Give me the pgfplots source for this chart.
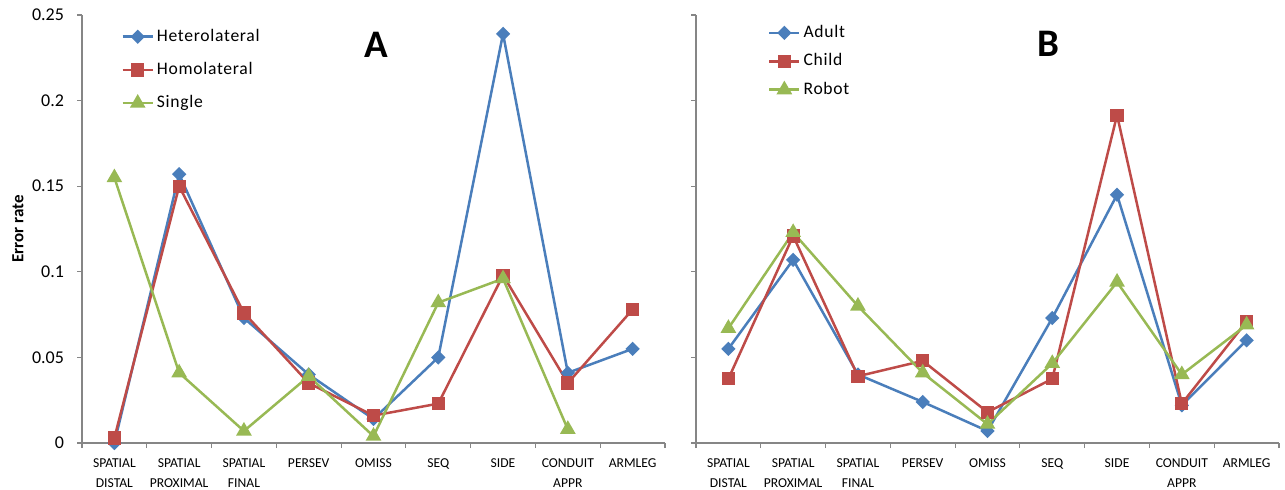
\documentclass[border=0pt]{standalone}
\usepackage{pgfplots}
\pgfplotsset{compat=1.18}
\usepackage{fontspec}
\setmainfont{Carlito}
\newfontfamily\lgfont[LetterSpace=4]{Carlito}
\definecolor{xblue}{HTML}{4A7EBB}
\definecolor{xred}{HTML}{BE4B48}
\definecolor{xgreen}{HTML}{98B954}
\definecolor{axgray}{HTML}{868686}
\pgfplotsset{
 myaxis/.style={
  scale only axis, width=291.5pt, height=214pt, anchor=south west,
  xmin=-0.5, xmax=8.5, ymin=0, ymax=0.25,
  axis x line*=bottom, axis y line*=left,
  axis line style={axgray, line width=0.6pt, -},
  every tick/.style={axgray, line width=0.6pt},
  tick align=outside,
  major tick length=2.5pt, minor tick length=2.5pt,
  xtick={0,...,8},
  xticklabels={SPATIAL\\DISTAL, SPATIAL\\PROXIMAL, SPATIAL\\FINAL, PERSEV, OMISS, SEQ, SIDE, CONDUIT\\APPR, ARMLEG},
  major x tick style={draw=none},
  minor xtick={-0.5,0.5,...,8.5},
  xticklabel style={align=center, font=\fontsize{6.8}{10}\selectfont, anchor=north, yshift=-2pt},
  ytick={0,0.05,0.1,0.15,0.2,0.25},
  yticklabel style={font=\fontsize{9}{10}\selectfont, xshift=-3pt},
  legend cell align=left,
  clip=false,
 },
 lgimg/.style={legend image code/.code={\draw[mark repeat=2,mark phase=2,##1] plot coordinates {(0pt,0pt)(7.5pt,0pt)(15pt,0pt)};}},
 sb/.style={xblue, line width=1.25pt, mark=square*, mark size=1.9pt, mark options={solid, rotate=45}},
 sr/.style={xred, line width=1.25pt, mark=square*, mark size=2.7pt, mark options={solid}},
 sg/.style={xgreen, line width=1.25pt, mark=triangle*, mark size=3.3pt, mark options={solid}},
}
\begin{document}
\begin{tikzpicture}
\useasboundingbox (0,0) rectangle (642.5pt,244.5pt);
\begin{axis}[myaxis, at={(41pt,23pt)},
  yticklabels={0,0.05,0.1,0.15,0.2,0.25},
  ylabel={Error rate},
  ylabel style={font=\bfseries\fontsize{8.5}{10}\selectfont, at={(axis description cs:-0.11,0.5)}, anchor=center},
  legend style={draw=none, fill=none, font=\lgfont\fontsize{8.8}{10}\selectfont, at={(rel axis cs:0.067,0.975)}, anchor=north west, row sep=6pt, inner sep=0pt, nodes={inner sep=1.5pt}},
]
\addplot[sb, lgimg] coordinates {(0,0) (1,0.157) (2,0.073) (3,0.040) (4,0.014) (5,0.050) (6,0.239) (7,0.041) (8,0.055)};
\addlegendentry{Heterolateral}
\addplot[sr, lgimg] coordinates {(0,0.003) (1,0.150) (2,0.076) (3,0.035) (4,0.016) (5,0.023) (6,0.098) (7,0.035) (8,0.078)};
\addlegendentry{Homolateral}
\addplot[sg, lgimg] coordinates {(0,0.155) (1,0.041) (2,0.007) (3,0.039) (4,0.004) (5,0.082) (6,0.096) (7,0.008)};
\addlegendentry{Single}
\node[font=\bfseries\fontsize{19.5}{22}\selectfont] at (rel axis cs:0.504,0.93) {A};
\end{axis}
\begin{axis}[myaxis, at={(348pt,23pt)},
  yticklabels={},
  legend style={draw=none, fill=none, font=\lgfont\fontsize{8.8}{10}\selectfont, at={(rel axis cs:0.123,0.984)}, anchor=north west, row sep=3.6pt, inner sep=0pt, nodes={inner sep=1.5pt}},
]
\addplot[sb, lgimg] coordinates {(0,0.055) (1,0.107) (2,0.040) (3,0.024) (4,0.007) (5,0.073) (6,0.145) (7,0.022) (8,0.060)};
\addlegendentry{Adult}
\addplot[sr, lgimg] coordinates {(0,0.0375) (1,0.121) (2,0.039) (3,0.048) (4,0.018) (5,0.0375) (6,0.1915) (7,0.023) (8,0.071)};
\addlegendentry{Child}
\addplot[sg, lgimg] coordinates {(0,0.067) (1,0.123) (2,0.080) (3,0.041) (4,0.011) (5,0.0465) (6,0.094) (7,0.040) (8,0.069)};
\addlegendentry{Robot}
\node[font=\bfseries\fontsize{19.5}{22}\selectfont] at (rel axis cs:0.604,0.933) {B};
\end{axis}
\end{tikzpicture}
\end{document}
